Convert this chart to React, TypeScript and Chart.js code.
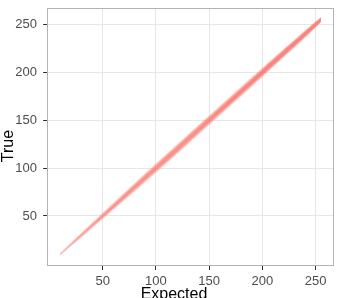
import React, { useEffect, useRef } from "react";
import { Chart, registerables } from "chart.js";

Chart.register(...registerables);

// Expected values along the band (x)
const expected = [10, 20, 30, 45, 60, 80, 100, 125, 150, 175, 200, 225, 245, 255];
// Band edges of the dense point cloud (True values)
const outerLow = [8.8, 18.0, 27.4, 41.8, 56.2, 75.5, 95.0, 119.8, 144.8, 169.8, 195.0, 220.4, 241.0, 252.0];
const outerHigh = [11.2, 22.0, 32.6, 48.2, 63.8, 84.5, 105.0, 130.2, 155.2, 180.2, 205.0, 229.6, 249.0, 258.0];
const midLow = [9.5, 19.0, 28.4, 42.8, 57.2, 76.7, 96.3, 121.1, 146.1, 171.1, 196.2, 221.5, 242.0, 252.6];
const midHigh = [10.5, 21.0, 31.6, 47.2, 62.8, 83.3, 103.7, 128.9, 153.9, 178.9, 203.8, 228.5, 248.0, 257.4];
const coreLow = [10, 20, 29.7, 44.2, 58.7, 78.2, 97.7, 122.4, 147.3, 172.2, 197.2, 222.3, 242.6, 253.0];
const coreHigh = [10, 20, 30.3, 45.8, 61.3, 81.8, 102.3, 127.6, 152.7, 177.8, 202.8, 227.7, 247.4, 257.0];
const denseLow = [10, 20, 30, 45, 60, 80, 100, 125, 149.5, 173.6, 198.2, 223.0, 243.2, 253.4];
const denseHigh = [10, 20, 30, 45, 60, 80, 100, 125, 150.5, 176.4, 201.8, 227.0, 246.8, 256.6];

const xTicks = [50, 100, 150, 200, 250];
const yTicks = [50, 100, 150, 200, 250];
const xTitle = "Expected";
const yTitle = "True";

const RED = "248,118,109";

function pts(ys: number[]) {
  return expected.map((x, i) => ({ x, y: ys[i] }));
}

function layer(low: number[], high: number[], alpha: number) {
  const base = {
    pointRadius: 0,
    borderWidth: 0,
    borderColor: "transparent",
    tension: 0.3,
  };
  return [
    { ...base, data: pts(low), fill: false },
    { ...base, data: pts(high), fill: "-1", backgroundColor: `rgba(${RED},${alpha})` },
  ];
}

const decor = {
  id: "decor",
  afterDraw(chart: any) {
    const { ctx, chartArea: a } = chart;
    ctx.save();
    ctx.strokeStyle = "#b3b3b3";
    ctx.lineWidth = 1;
    ctx.strokeRect(a.left + 0.5, a.top + 0.5, a.right - a.left - 1, a.bottom - a.top - 1);
    ctx.fillStyle = "#000";
    ctx.font = '16px "Liberation Sans", Arial, sans-serif';
    ctx.textAlign = "center";
    ctx.textBaseline = "alphabetic";
    ctx.fillText(xTitle, 174, 299);
    ctx.translate(13, 146);
    ctx.rotate(-Math.PI / 2);
    ctx.fillText(yTitle, 0, 0);
    ctx.restore();
  },
};

export default function App() {
  const ref = useRef<HTMLCanvasElement>(null);
  useEffect(() => {
    if (!ref.current) return;
    const tickFont = { family: '"Liberation Sans", Arial, sans-serif', size: 13 };
    const chart = new Chart(ref.current, {
      type: "line",
      data: {
        datasets: [
          ...layer(outerLow, outerHigh, 0.3),
          ...layer(midLow, midHigh, 0.4),
          ...layer(coreLow, coreHigh, 0.5),
          ...layer(denseLow, denseHigh, 0.5),
        ] as any,
      },
      options: {
        animation: false,
        responsive: false,
        devicePixelRatio: 1,
        layout: { padding: { top: 8, right: 4, bottom: 0, left: 0 } },
        plugins: { legend: { display: false }, tooltip: { enabled: false } },
        scales: {
          x: {
            type: "linear",
            min: -2.25,
            max: 267.25,
            afterBuildTicks: (s: any) => {
              s.ticks = xTicks.map((v) => ({ value: v }));
            },
            afterFit: (s: any) => {
              s.height = 32;
              s.paddingLeft = 0;
              s.paddingRight = 0;
            },
            ticks: { font: tickFont, color: "#4d4d4d", padding: 4, maxRotation: 0, callback: (v: any) => String(v) },
            grid: { color: "#e6e6e6", lineWidth: 1, tickColor: "#333333", tickLength: 4 },
            border: { display: false },
          },
          y: {
            type: "linear",
            min: -2.25,
            max: 267.25,
            afterBuildTicks: (s: any) => {
              s.ticks = yTicks.map((v) => ({ value: v }));
            },
            afterFit: (s: any) => {
              s.width = 47;
              s.paddingTop = 0;
              s.paddingBottom = 0;
            },
            ticks: { font: tickFont, color: "#4d4d4d", padding: 6, callback: (v: any) => String(v) },
            grid: { color: "#e6e6e6", lineWidth: 1, tickColor: "#333333", tickLength: 4 },
            border: { display: false },
          },
        },
      },
      plugins: [decor],
    });
    return () => chart.destroy();
  }, []);
  return (
    <div style={{ position: "fixed", left: 0, top: 0, width: 338, height: 298, background: "#fff" }}>
      <canvas ref={ref} width={338} height={298} style={{ display: "block" }} />
    </div>
  );
}
